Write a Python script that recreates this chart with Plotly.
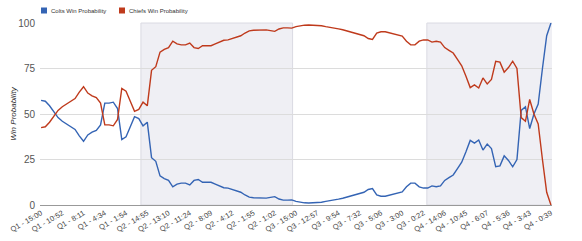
import plotly.graph_objects as go

tick_labels = ["Q1 - 15:00", "Q1 - 10:52", "Q1 - 8:11", "Q1 - 4:34", "Q1 - 1:54",
               "Q2 - 14:55", "Q2 - 13:10", "Q2 - 11:24", "Q2 - 8:09", "Q2 - 4:12",
               "Q2 - 1:55", "Q2 - 1:02", "Q3 - 15:00", "Q3 - 12:57", "Q3 - 9:54",
               "Q3 - 7:32", "Q3 - 5:06", "Q3 - 3:00", "Q3 - 0:22", "Q4 - 14:06",
               "Q4 - 10:45", "Q4 - 6:07", "Q4 - 5:36", "Q4 - 3:43", "Q4 - 0:39"]
plays_per_label = 5

colts = [57.5, 57, 54.5, 51, 48, 46, 44.5, 43, 41.5, 38,
         35, 38.5, 40, 41, 44, 56, 56, 56.5, 53, 36,
         37.5, 43, 48.5, 47.5, 43.5, 45.5, 26, 24, 16, 14.5,
         13.5, 10, 11.5, 12, 12, 11, 13.5, 14, 12.5, 12.5,
         12.5, 11.5, 10.5, 9.5, 9.3, 8.5, 7.8, 7, 5.5, 4.3,
         4, 3.8, 3.8, 3.8, 4.2, 4.6, 3.3, 2.7, 2.7, 2.8,
         2, 1.5, 1.2, 1.1, 1.1, 1.1, 1.5, 2, 2.3, 2.7,
         3.2, 3.7, 4.3, 5, 5.8, 6.3, 7, 8.5, 9, 5.5,
         4.8, 4.8, 5.3, 5.8, 6.6, 7.2, 10, 12, 12, 10,
         9.3, 9.3, 10.5, 10, 10.5, 13.5, 15, 16.5, 20, 23.5,
         29.3, 35.5, 34, 35.7, 30.2, 33.5, 31, 21, 21.5, 27,
         24.5, 21, 25, 52, 54, 42, 50, 55.5, 75, 93,
         100]

chiefs = [42.5, 43, 45.5, 49, 52, 54, 55.5, 57, 58.5, 62,
          65, 61.5, 60, 59, 56, 44, 44, 43.5, 47, 64,
          62.5, 57, 51.5, 52.5, 56.5, 54.5, 74, 76, 84, 85.5,
          86.5, 90, 88.5, 88, 88, 89, 86.5, 86, 87.5, 87.5,
          87.5, 88.5, 89.5, 90.5, 90.7, 91.5, 92.2, 93, 94.5, 95.7,
          96, 96.2, 96.2, 96.2, 95.8, 95.4, 96.7, 97.3, 97.3, 97.2,
          98, 98.5, 98.8, 98.9, 98.9, 98.9, 98.5, 98, 97.7, 97.3,
          96.8, 96.3, 95.7, 95, 94.2, 93.7, 93, 91.5, 91, 94.5,
          95.2, 95.2, 94.7, 94.2, 93.4, 92.8, 90, 88, 88, 90,
          90.7, 90.7, 89.5, 90, 89.5, 86.5, 85, 83.5, 80, 76.5,
          70.7, 64.5, 66, 64.3, 69.8, 66.5, 69, 79, 78.5, 73,
          75.5, 79, 75, 48, 46, 58, 50, 44.5, 25, 7,
          0]

series_names = ["Colts Win Probability", "Chiefs Win Probability"]

# play index where the shaded quarters (Q2 and Q4) begin/end
shaded_quarters = [(23.5, 59.2), (90.8, 120.4)]

colts_color = "#3464b4"
chiefs_color = "#bf3a1c"
colors = [colts_color, chiefs_color]

plays = list(range(len(colts)))
tick_vals = [i * plays_per_label for i in range(len(tick_labels))]

fig = go.Figure()

for q0, q1 in shaded_quarters:
    fig.add_vrect(x0=q0, x1=q1, fillcolor="#efeff4", line=dict(color="#dadae2", width=1),
                  layer="below")

for vals, name, col in zip([colts, chiefs], series_names, colors):
    fig.add_trace(go.Scatter(x=plays, y=vals, mode="lines", name=name,
                             line=dict(color=col, width=1.4), showlegend=False))

# custom legend (square swatch + label) placed at the top-left
W, H = 582, 241
ml, mr, mt, mb = 40, 30, 23, 36
pw, ph = W - ml - mr, H - mt - mb
def px(x):
    return (x - ml) / pw
def py(y):
    return (H - mb - y) / ph

legend_x = [41, 119]
for lx, name, col in zip(legend_x, series_names, colors):
    fig.add_shape(type="rect", xref="paper", yref="paper",
                  x0=px(lx), x1=px(lx + 6), y0=py(13.5), y1=py(7.5),
                  fillcolor=col, line=dict(width=0))
    fig.add_annotation(xref="paper", yref="paper", x=px(lx + 8), y=py(10.5),
                       text=name, showarrow=False, xanchor="left", yanchor="middle",
                       font=dict(size=6, color="#333"))

fig.update_layout(
    width=W, height=H,
    margin=dict(l=ml, r=mr, t=mt, b=mb),
    paper_bgcolor="white", plot_bgcolor="white",
    font=dict(family="Arial, Liberation Sans, sans-serif", color="#444"),
    showlegend=False,
    xaxis=dict(range=[-0.25, 120.25], tickmode="array", tickvals=tick_vals,
               ticktext=tick_labels, tickangle=-30, tickfont=dict(size=7.5, color="#444"),
               showgrid=False, zeroline=False, showline=True, linecolor="#999",
               linewidth=1, ticks="", automargin=False),
    yaxis=dict(range=[0, 100], tickvals=[0, 25, 50, 75, 100],
               tickfont=dict(size=10, color="#555"), gridcolor="#dcdcdc", gridwidth=1,
               zeroline=False, showline=False, ticks="", ticklabelstandoff=4,
               automargin=False,
               title=dict(text="<i>Win Probability</i>", font=dict(size=8, color="#333"),
                          standoff=0)),
)

fig.write_html("out.html")
